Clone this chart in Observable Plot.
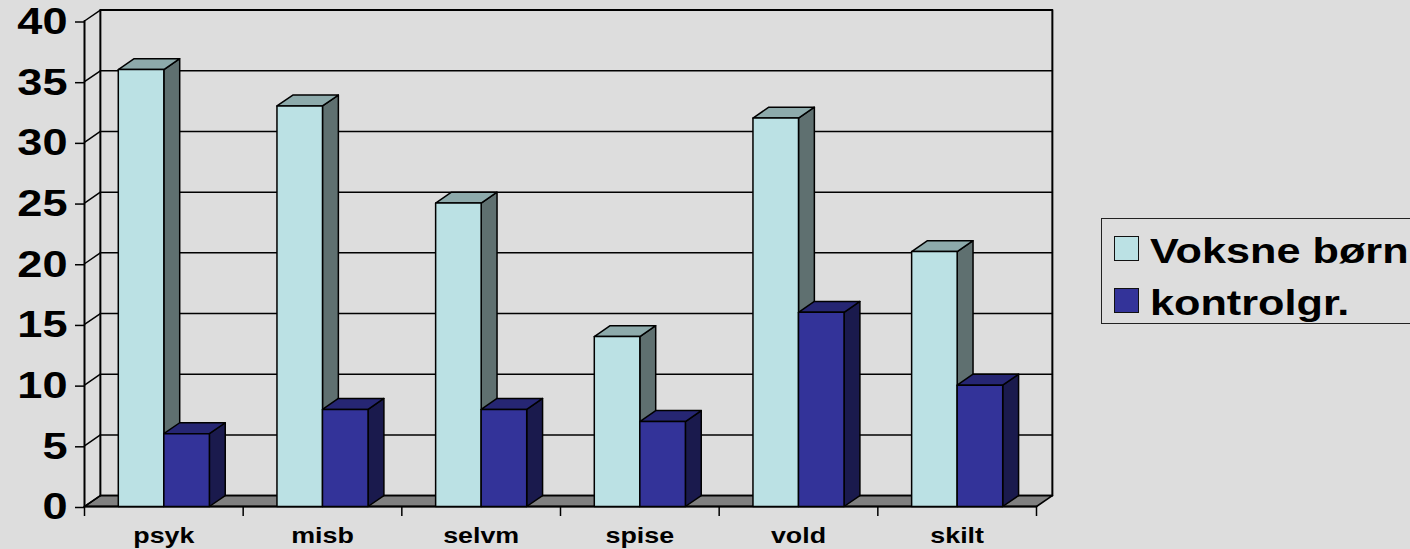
<!DOCTYPE html>
<html lang="da">
<head>
<meta charset="utf-8">
<script src="https://cdn.jsdelivr.net/npm/d3@7"></script>
<script src="https://cdn.jsdelivr.net/npm/@observablehq/plot@0.6"></script>
<style>
html,body{margin:0;padding:0;background:#dddddd;width:1410px;height:549px;overflow:hidden;position:relative}
svg{display:block;background:transparent}
#legend{position:absolute;left:1101px;top:218px;width:400px;height:105.5px;border:1.5px solid #222;box-sizing:border-box;font:bold 35px "Liberation Sans",Arial,sans-serif;color:#000}
#legend .sw{position:absolute;left:12px;width:25px;height:25px;border:1.5px solid #111;box-sizing:border-box}
#legend .lb{position:absolute;left:48px;transform:scaleX(1.235);transform-origin:left center;line-height:40px;white-space:nowrap}
</style>
</head>
<body>
<div id="chart"></div>
<div id="legend"></div>
<script>
const categories = ["psyk", "misb", "selvm", "spise", "vold", "skilt"];
const voksneBorn = [36, 33, 25, 14, 32, 21];
const kontrol = [6, 8, 8, 7, 16, 10];
const seriesNames = ["Voksne børn", "kontrolgr."];
const lightColors = {front: "#bbe1e4", side: "#5f7070", top: "#8daaab"};
const navyColors = {front: "#333399", side: "#1a1a4d", top: "#262673"};
const yTicks = [0, 5, 10, 15, 20, 25, 30, 35, 40];
const depthX = 0.1, depthY = 0.9, barWidth = 0.287, groupStart = 0.213;
const fontFamily = '"Liberation Sans", Arial, sans-serif';

const xBounds = d3.range(categories.length + 1);
const xMid = categories.map((_, i) => i + 0.5);

function polys(values, start) {
  const front = [], side = [], top = [];
  values.forEach((v, i) => {
    const a = i + start, b = a + barWidth;
    [[a,0],[b,0],[b,v],[a,v]].forEach(([x,y]) => front.push({id:i,x,y}));
    [[b,0],[b+depthX,depthY],[b+depthX,v+depthY],[b,v]].forEach(([x,y]) => side.push({id:i,x,y}));
    [[a,v],[b,v],[b+depthX,v+depthY],[a+depthX,v+depthY]].forEach(([x,y]) => top.push({id:i,x,y}));
  });
  return {front, side, top};
}
function barMarks(values, start, c) {
  const p = polys(values, start);
  const m = (data, fill) => Plot.line(data, {x:"x", y:"y", z:"id", fill, stroke:"#000", strokeWidth:1.5, curve:"linear-closed"});
  return [m(p.side, c.side), m(p.top, c.top), m(p.front, c.front)];
}
const n = categories.length;
const floor = [[0,0],[n,0],[n+depthX,depthY],[depthX,depthY]].map(([x,y]) => ({id:0,x,y}));
const gridBack = yTicks.flatMap(v => [{id:v,x:depthX,y:v+depthY},{id:v,x:n+depthX,y:v+depthY}]);
const diagonals = yTicks.flatMap(v => [{id:v,x:0,y:v},{id:v,x:depthX,y:v+depthY}]);
const walls = [
  {id:"front",x:0,y:0},{id:"front",x:0,y:40},
  {id:"back",x:depthX,y:depthY},{id:"back",x:depthX,y:40+depthY},{id:"back",x:n+depthX,y:40+depthY},{id:"back",x:n+depthX,y:depthY},
  {id:"axis",x:0,y:0},{id:"axis",x:n,y:0}
];

const chart = Plot.plot({
  width: 1410, height: 549,
  marginLeft: 84, marginRight: 374, marginTop: 10, marginBottom: 43,
  x: {type:"linear", domain:[0,n], range:[84,1036]},
  y: {type:"linear", domain:[0,40], range:[506,20.5]},
  style: {background:"transparent", overflow:"visible"},
  marks: [
    Plot.line(gridBack, {x:"x", y:"y", z:"id", stroke:"#000", strokeWidth:1.5}),
    Plot.line(floor, {x:"x", y:"y", z:"id", fill:"#808080", stroke:"#000", strokeWidth:1.6, curve:"linear-closed"}),
    Plot.line(diagonals, {x:"x", y:"y", z:"id", stroke:"#000", strokeWidth:1.5}),
    Plot.line(walls, {x:"x", y:"y", z:"id", stroke:"#000", strokeWidth:2}),
    ...barMarks(voksneBorn, groupStart, lightColors),
    ...barMarks(kontrol, groupStart + barWidth, navyColors),
    Plot.axisY({ticks:yTicks, tickSize:9, tickPadding:8, label:null, fontSize:37, fontWeight:"bold", fontFamily, stroke:"#000", strokeWidth:1.5, color:"#000", textAnchor:"end", dy:1}),
    Plot.axisX({ticks:xBounds, tickSize:10, tickFormat:() => "", label:null, stroke:"#000", strokeWidth:1.5}),
    Plot.axisX({ticks:xMid, tickSize:0, tickPadding:21, tickFormat:d => categories[Math.round(d-0.5)], label:null, fontSize:22, fontWeight:"bold", fontFamily, color:"#000"})
  ]
});
chart.querySelectorAll("text").forEach(t => {
  const tr = t.getAttribute("transform") || "";
  t.setAttribute("transform", tr + " scale(1.22,1)");
});
document.getElementById("chart").append(chart);

const legend = document.getElementById("legend");
const swatchColors = [lightColors.front, navyColors.front];
seriesNames.forEach((name, i) => {
  const sw = document.createElement("div");
  sw.className = "sw"; sw.style.top = (17 + i*52) + "px"; sw.style.background = swatchColors[i];
  const lb = document.createElement("div");
  lb.className = "lb"; lb.style.top = (12 + i*52) + "px"; lb.textContent = name;
  legend.append(sw, lb);
});
</script>
</body>
</html>
